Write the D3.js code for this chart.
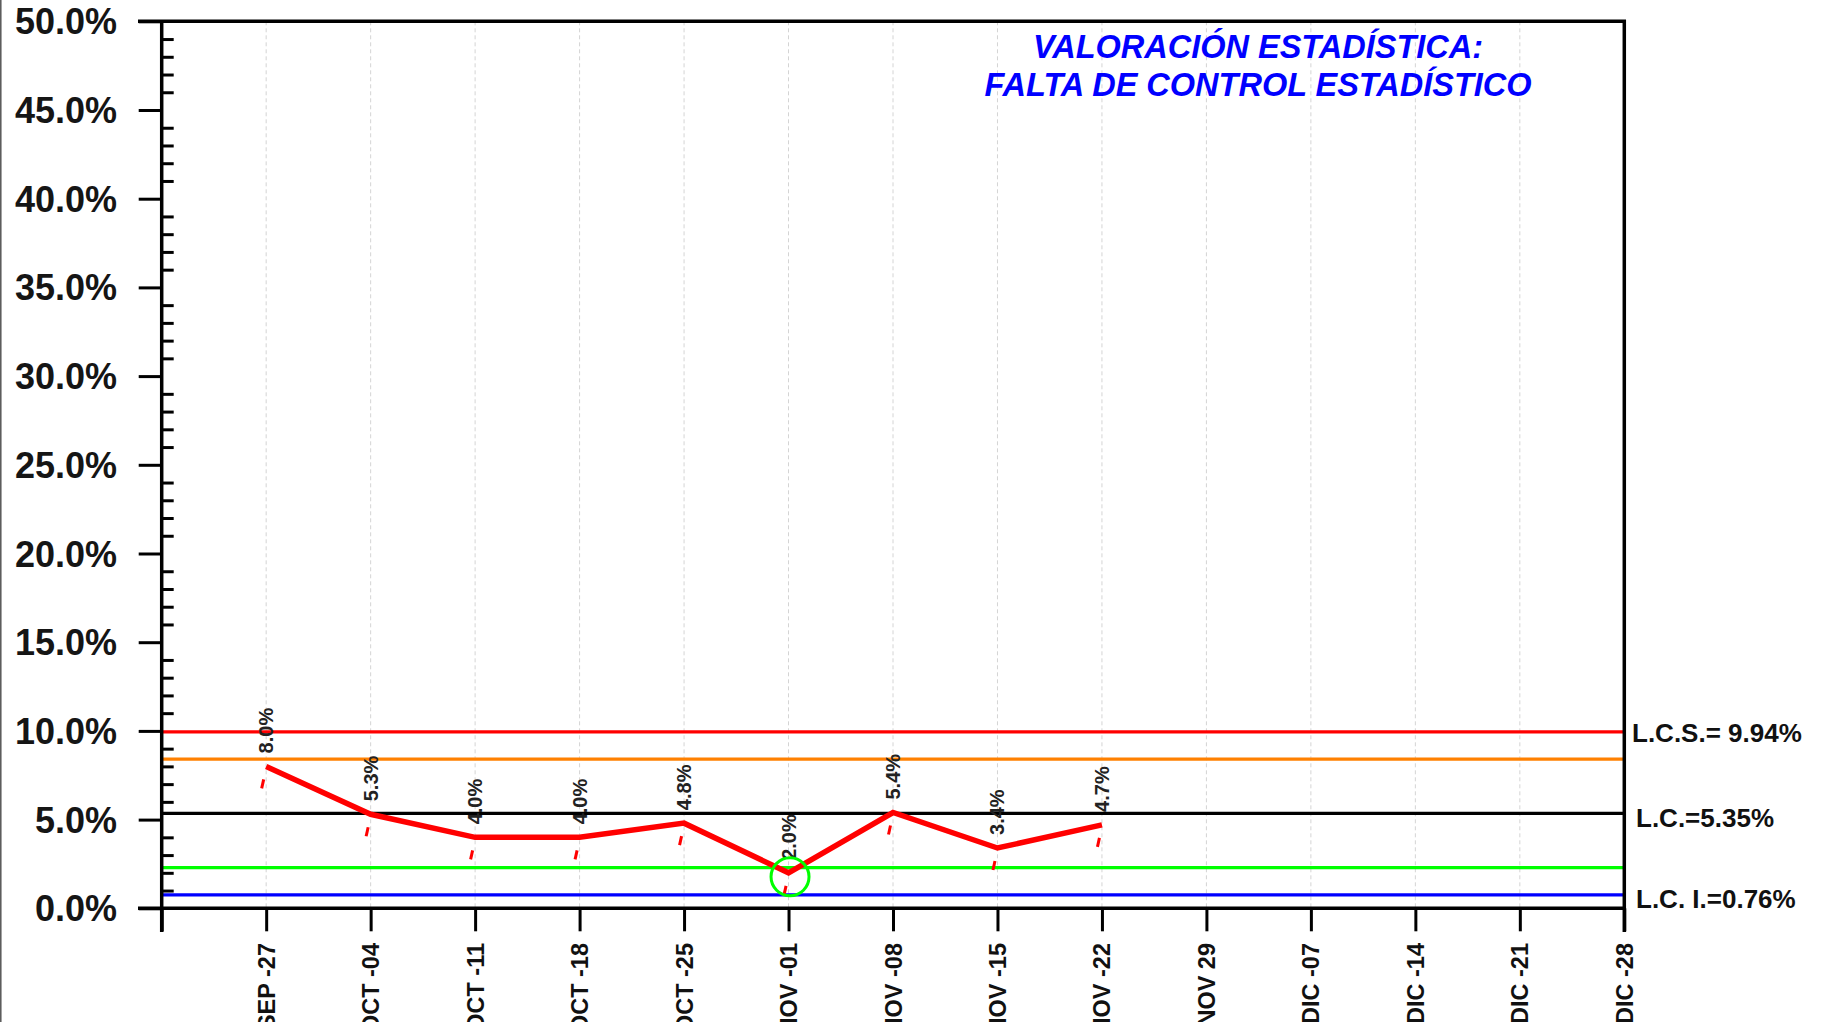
<!DOCTYPE html>
<html>
<head>
<meta charset="UTF-8">
<title>Valoración estadística</title>
<style>
    body { margin: 0; background: #fff; }
    svg { display: block; font-family: "Liberation Sans", Arial, sans-serif; }
    .grid line { stroke: #d4d4d4; stroke-width: 1; stroke-dasharray: 4,3; }
    .frame { stroke: #000; stroke-width: 3.5; fill: none; }
    .axis path { display: none; }
    .axis line { stroke: #000; stroke-width: 3; }
    .ylab { font-size: 36px; font-weight: bold; fill: #151515; }
    .xlab { font-size: 23.5px; font-weight: bold; fill: #111; }
    .vlab { font-size: 20px; font-weight: bold; fill: #222; }
    .limlab { font-size: 26px; font-weight: bold; fill: #111; }
    .title { font-size: 32.5px; font-weight: bold; font-style: italic; fill: #0000ff; }
</style>
</head>
<body>
<svg id="chart" width="1822" height="1022"></svg>
<script src="https://cdn.jsdelivr.net/npm/d3@7"></script>
<script>
// semanas (eje X)
var categories = ["SEP -27", "OCT -04", "OCT -11", "OCT -18", "OCT -25", "NOV -01", "NOV -08",
    "NOV -15", "NOV -22", "NOV 29", "DIC -07", "DIC -14", "DIC -21", "DIC -28"];
// % defectuoso por semana
var values = [8.0, 5.3, 4.0, 4.0, 4.8, 2.0, 5.4, 3.4, 4.7];
// limites: LCS, aviso sup., LC, aviso inf., LCI
var limitValues = [9.94, 8.41, 5.35, 2.29, 0.76];
var limitNames = ["L.C.S.= 9.94%", "", "L.C.=5.35%", "", "L.C. I.=0.76%"];
// puntos fuera de control (indices de values)
var flagged = [5];
var yTicks = d3.range(0, 51, 5);
var titleLines = ["VALORACIÓN ESTADÍSTICA:", "FALTA DE CONTROL ESTADÍSTICO"];

function draw() {
    var svg = d3.select("#chart");
    var mLeft = 161.7, mRight = 1624.3, mTop = 21.3, mBottom = 908.3;

    var x = d3.scaleLinear().domain([0, categories.length]).range([mLeft, mRight]);
    var y = d3.scaleLinear().domain([0, 50]).range([mBottom, mTop]);

    // borde izquierdo de la imagen
    svg.append("line").attr("x1", 0.8).attr("x2", 0.8).attr("y1", 0).attr("y2", 1022)
        .attr("stroke", "#555").attr("stroke-width", 1.5);

    // rejilla vertical
    svg.append("g").attr("class", "grid")
        .selectAll("line").data(d3.range(1, categories.length)).enter()
        .append("line")
        .attr("x1", function (d) { return x(d); })
        .attr("x2", function (d) { return x(d); })
        .attr("y1", mTop).attr("y2", mBottom);

    // lineas de control
    var limitColors = ["#ff0000", "#ff8000", "#000000", "#00ff00", "#0000ff"];
    svg.append("g").selectAll("line").data(limitValues).enter()
        .append("line")
        .attr("x1", mLeft).attr("x2", mRight)
        .attr("y1", function (d) { return y(d); })
        .attr("y2", function (d) { return y(d); })
        .attr("stroke", function (d, i) { return limitColors[i]; })
        .attr("stroke-width", 3.2);

    // eje Y: ticks mayores hacia fuera, menores hacia dentro
    svg.append("g").attr("class", "axis")
        .attr("transform", "translate(" + mLeft + ",0)")
        .call(d3.axisLeft(y).tickValues(yTicks).tickSize(23).tickFormat(""));
    svg.append("g").attr("class", "axis")
        .attr("transform", "translate(" + mLeft + ",0)")
        .call(d3.axisRight(y).tickValues(d3.range(0, 51, 1).filter(function (d) { return d % 5 !== 0; }))
            .tickSize(12).tickFormat(""));
    svg.append("g").selectAll("text").data(yTicks).enter()
        .append("text")
        .attr("class", "ylab")
        .attr("x", 117)
        .attr("y", function (d) { return y(d) + 13; })
        .attr("text-anchor", "end")
        .text(function (d) { return d.toFixed(1) + "%"; });

    // eje X
    svg.append("g").attr("class", "axis")
        .attr("transform", "translate(0," + mBottom + ")")
        .call(d3.axisBottom(x).tickValues(d3.range(0, categories.length + 1)).tickSize(23).tickFormat(""));
    svg.append("g").selectAll("text").data(categories).enter()
        .append("text")
        .attr("class", "xlab")
        .attr("text-anchor", "end")
        .attr("transform", function (d, i) {
            return "translate(" + (x(i + 1) + 8.5) + ",943) rotate(-90)";
        })
        .text(function (d) { return d; });

    // marco
    svg.append("path").attr("class", "frame")
        .attr("d", "M138," + mTop + "H" + mRight + "V932");
    svg.append("line").attr("class", "frame")
        .attr("x1", mLeft).attr("x2", mLeft).attr("y1", mTop).attr("y2", 932);
    svg.append("line").attr("class", "frame")
        .attr("x1", 138).attr("x2", mRight).attr("y1", mBottom).attr("y2", mBottom);

    // serie
    var line = d3.line()
        .x(function (d, i) { return x(i + 1); })
        .y(function (d) { return y(d); });
    svg.append("path").datum(values)
        .attr("d", line)
        .attr("fill", "none")
        .attr("stroke", "#ff0000")
        .attr("stroke-width", 5.5)
        .attr("stroke-linejoin", "miter");

    // marcas bajo cada punto
    svg.append("g").selectAll("line").data(values).enter()
        .append("line")
        .attr("x1", function (d, i) { return x(i + 1) - 4.5; })
        .attr("y1", function (d) { return y(d) + 22; })
        .attr("x2", function (d, i) { return x(i + 1) - 2.5; })
        .attr("y2", function (d) { return y(d) + 13; })
        .attr("stroke", "#ff0000")
        .attr("stroke-width", 3);

    // etiquetas de valor
    svg.append("g").selectAll("text").data(values).enter()
        .append("text")
        .attr("class", "vlab")
        .attr("transform", function (d, i) {
            return "translate(" + (x(i + 1) + 7) + "," + (y(d) - 13) + ") rotate(-90)";
        })
        .text(function (d) { return d.toFixed(1) + "%"; });

    // punto fuera de control
    svg.append("g").selectAll("circle").data(flagged).enter()
        .append("circle")
        .attr("cx", function (d) { return x(d + 1) + 1.5; })
        .attr("cy", function (d) { return y(values[d]) + 4; })
        .attr("r", 19)
        .attr("fill", "none")
        .attr("stroke", "#00ff00")
        .attr("stroke-width", 3);

    // etiquetas de limites
    var limOffsets = [0, 0, 4, 0, 3];
    var limX = [1632, 0, 1636, 0, 1636];
    svg.append("g").selectAll("text").data(limitValues).enter()
        .filter(function (d, i) { return limitNames[i] !== ""; })
        .append("text")
        .attr("class", "limlab")
        .attr("x", function (d) { return limX[limitValues.indexOf(d)]; })
        .attr("y", function (d) { var i = limitValues.indexOf(d); return y(d) + 10 + limOffsets[i]; })
        .text(function (d) { return limitNames[limitValues.indexOf(d)]; });

    // titulo
    svg.append("g").selectAll("text").data(titleLines).enter()
        .append("text")
        .attr("class", "title")
        .attr("x", 1258)
        .attr("y", function (d, i) { return 58 + i * 38; })
        .attr("text-anchor", "middle")
        .text(function (d) { return d; });
}

draw();
</script>
</body>
</html>
